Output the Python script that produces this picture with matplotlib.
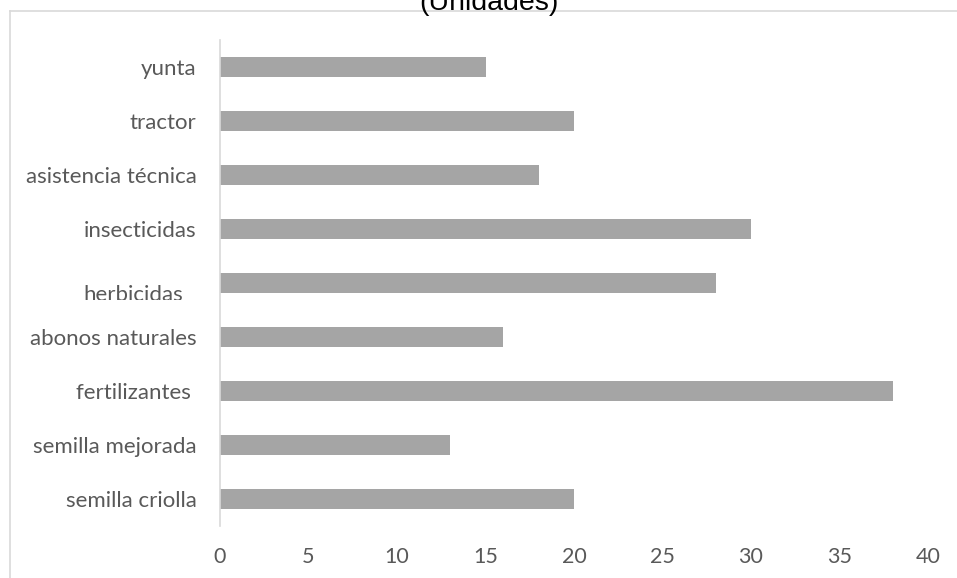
import matplotlib
matplotlib.use("Agg")
import matplotlib.pyplot as plt
from matplotlib.lines import Line2D
from matplotlib.transforms import Bbox, offset_copy

categorias = ["semilla criolla", "semilla mejorada", "fertilizantes ", "abonos naturales",
              "herbicidas", "insecticidas", "asistencia técnica", "tractor", "yunta"]
valores = [20, 13, 38, 16, 28, 30, 18, 20, 15]
ticks_x = [0, 5, 10, 15, 20, 25, 30, 35, 40]

W, H = 957, 578
fig = plt.figure(figsize=(W / 100, H / 100), dpi=100)
ax = fig.add_axes([220 / W, 1 - 526 / H, 708 / W, 486 / H])

pos = list(range(len(categorias)))
ax.barh(pos, valores, height=0.36, color="#A5A5A5", zorder=2)

ax.set_xlim(0, 40)
ax.set_ylim(-0.5, len(categorias) - 0.5)
ax.set_xticks(ticks_x)
ax.set_xticklabels([str(t) for t in ticks_x])
ax.set_yticks(pos)
# la etiqueta de herbicidas se dibuja aparte (desplazada y recortada)
ax.set_yticklabels(["" if c == "herbicidas" else c for c in categorias])

for s in ["top", "right", "bottom"]:
    ax.spines[s].set_visible(False)
ax.spines["left"].set_color("#D9D9D9")
ax.spines["left"].set_linewidth(1.2)
ax.tick_params(axis="both", length=0, labelcolor="#595959")
ax.tick_params(axis="x", pad=15, labelsize=15.5)
ax.tick_params(axis="y", pad=17, labelsize=16)
for lab in ax.get_xticklabels() + ax.get_yticklabels():
    lab.set_fontfamily("Lato")

i_h = categorias.index("herbicidas")
tr = offset_copy(ax.get_yaxis_transform(), fig=fig, x=-37, y=-12, units="dots")
t_h = ax.text(0, pos[i_h], "herbicidas", transform=tr, ha="right", va="center",
              fontsize=16, family="Lato", color="#595959")
t_h.set_clip_on(True)
t_h.set_clip_box(Bbox.from_extents(0, H - 300, W, H))

# marco del gráfico
fig.add_artist(Line2D([10 / W, 1.0], [1 - 11 / H, 1 - 11 / H], color="#D9D9D9", lw=1.2,
                      transform=fig.transFigure))
fig.add_artist(Line2D([10 / W, 10 / W], [0, 1 - 11 / H], color="#D9D9D9", lw=1.2,
                      transform=fig.transFigure))

# título recortado por el borde superior, como en el original
fig.text(489 / W, 1 - 9.5 / H, "(Unidades)", ha="center", va="baseline",
         fontsize=20.5, family="Liberation Sans", color="#000000")

fig.savefig("out.png", dpi=100)
